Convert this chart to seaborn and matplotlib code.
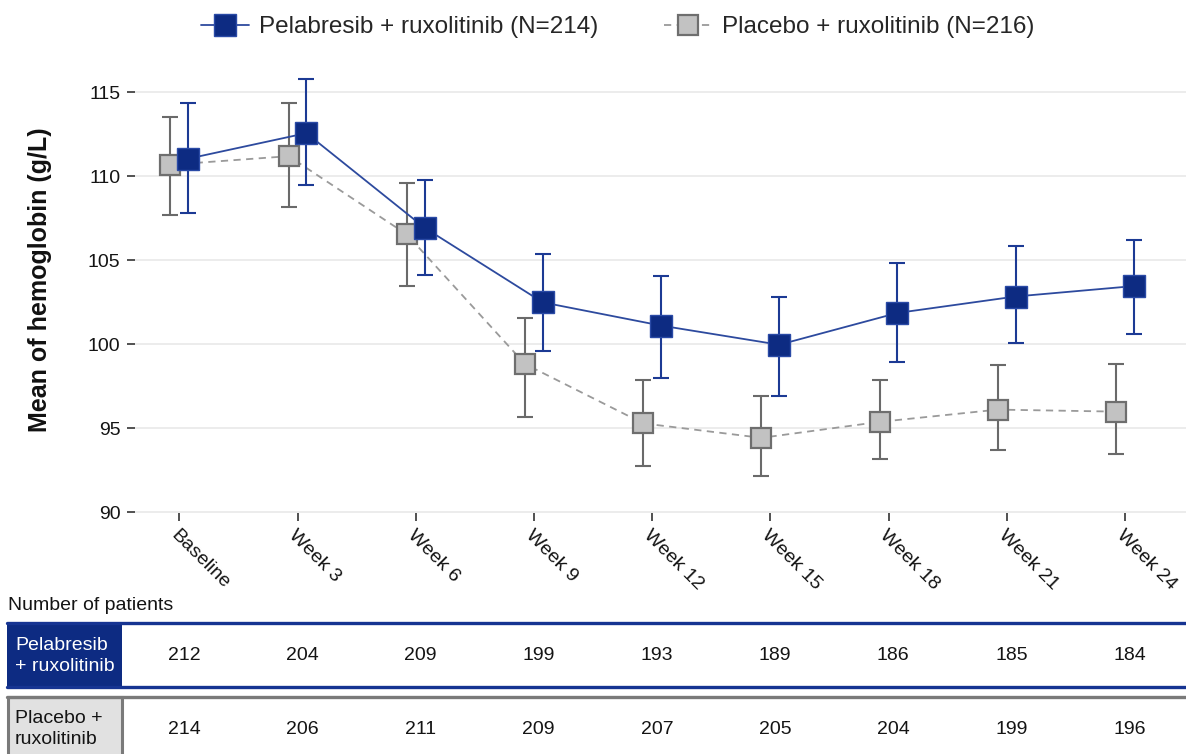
import numpy as np
import pandas as pd
import matplotlib
matplotlib.use("Agg")
import matplotlib.pyplot as plt
import seaborn as sns
from matplotlib.transforms import blended_transform_factory
from matplotlib.patches import Rectangle
from matplotlib.lines import Line2D

# ---- data -------------------------------------------------------------
visits = ["Baseline", "Week 3", "Week 6", "Week 9", "Week 12",
          "Week 15", "Week 18", "Week 21", "Week 24"]

pela_label = "Pelabresib + ruxolitinib (N=214)"
pela_mean = [111.05, 112.57, 106.94, 102.5, 101.12, 99.98, 101.87, 102.85, 103.47]
pela_lo = [107.8, 109.49, 104.15, 99.6, 98.0, 96.95, 98.94, 100.06, 100.63]
pela_hi = [114.35, 115.77, 109.8, 105.37, 104.06, 102.82, 104.82, 105.84, 106.2]

plac_label = "Placebo + ruxolitinib (N=216)"
plac_mean = [110.69, 111.2, 106.54, 98.83, 95.3, 94.44, 95.39, 96.12, 96.0]
plac_lo = [107.71, 108.16, 103.5, 95.7, 92.76, 92.15, 93.18, 93.7, 93.5]
plac_hi = [113.55, 114.35, 109.6, 101.6, 97.9, 96.95, 97.9, 98.75, 98.83]

pela_n = [212, 204, 209, 199, 193, 189, 186, 185, 184]
plac_n = [214, 206, 211, 209, 207, 205, 204, 199, 196]

pela_row = "Pelabresib\n+ ruxolitinib"
plac_row = "Placebo +\nruxolitinib"
yticks = [90, 95, 100, 105, 110, 115]

# ---- style ------------------------------------------------------------
sns.set_style("white")
plt.rcParams["font.family"] = ["Liberation Sans", "DejaVu Sans"]

NAVY = "#0d2b82"
NAVY_LINE = "#2d4a9e"
GREY_FILL = "#c2c2c2"
GREY_EDGE = "#6e6e6e"
INK = "#141414"

W, H = 1186, 754
fig = plt.figure(figsize=(W / 100, H / 100), dpi=100)


def fx(px):
    return px / W


def fy(py):
    return 1 - py / H


ax = fig.add_axes([fx(135), fy(513.3), fx(1186) - fx(135), fy(75.5) - fy(513.3)])

idx = np.arange(len(visits))
arms = [
    dict(label=plac_label, mean=plac_mean, lo=plac_lo, hi=plac_hi, off=-0.075,
         line=GREY_FILL, stem="#6a6a6a", face=GREY_FILL, edge=GREY_EDGE,
         ms=14.6, mew=1.6, dashed=True, z=2),
    dict(label=pela_label, mean=pela_mean, lo=pela_lo, hi=pela_hi, off=0.075,
         line=NAVY_LINE, stem="#1c3a94", face=NAVY, edge="#2a4aa6",
         ms=16.4, mew=1.0, dashed=False, z=5),
]

handles = {}
for arm in arms:
    df = pd.DataFrame({"x": idx + arm["off"], "mean": arm["mean"],
                       "lo": arm["lo"], "hi": arm["hi"]})
    eb = ax.errorbar(df["x"], df["mean"],
                     yerr=[df["mean"] - df["lo"], df["hi"] - df["mean"]],
                     fmt="none", ecolor=arm["stem"], elinewidth=1.5,
                     capsize=5.5, capthick=1.5, zorder=arm["z"])
    for cap in eb[1]:
        cap.set_color("#1e1e1e")
    sns.lineplot(data=df, x="x", y="mean", ax=ax, color=arm["line"],
                 linewidth=1.3, marker="s", markersize=arm["ms"],
                 markerfacecolor=arm["face"], markeredgecolor=arm["edge"],
                 markeredgewidth=arm["mew"], zorder=arm["z"] + 1)
    ln = ax.lines[-1]
    if arm["dashed"]:
        ln.set_color("#9a9a9a")
        ln.set_linestyle((0, (4, 3)))
    ln.set_label(arm["label"])
    handles[arm["label"]] = ln

if ax.get_legend() is not None:
    ax.get_legend().remove()

# ---- axes -------------------------------------------------------------
ax.set_xlim(-0.375, 8.517)
ax.set_ylim(89.95, 116)
ax.set_yticks(yticks)
ax.set_xticks(idx, visits)
ax.set_axisbelow(True)
ax.grid(axis="y", color="#ebebeb", linewidth=1.3)
ax.grid(axis="x", visible=False)
sns.despine(ax=ax, left=True, bottom=True)

ax.tick_params(axis="y", left=True, length=5.5, width=1.2, color="#333333",
               pad=5, labelsize=14, labelcolor=INK)
ax.tick_params(axis="x", bottom=True, length=6, width=1.2, color="#333333",
               pad=4, labelsize=14, labelcolor=INK)
for lab in ax.get_xticklabels():
    lab.set_rotation(-45)
    lab.set_ha("left")
    lab.set_va("top")
    lab.set_rotation_mode("anchor")

ax.set_xlabel("")
ax.set_ylabel("Mean of hemoglobin (g/L)", fontsize=18, fontweight="bold",
              color="#111111")
ax.yaxis.set_label_coords(-0.079, 0.533)

# ---- legend -----------------------------------------------------------
fig.legend(handles=[handles[pela_label], handles[plac_label]],
           labels=[pela_label, plac_label],
           loc="center", bbox_to_anchor=(0.5207, fy(27)), ncol=2,
           frameon=False, fontsize=17.5, handlelength=2.0,
           handletextpad=0.4, columnspacing=2.7, borderaxespad=0)

# ---- number-at-risk table --------------------------------------------
tr = blended_transform_factory(ax.transData, fig.transFigure)
fig.text(fx(8), fy(606), "Number of patients", fontsize=14,
         ha="left", va="center", color=INK)

# treatment row
fig.add_artist(Rectangle((fx(7), fy(687)), fx(122) - fx(7), fy(623) - fy(687),
                         transform=fig.transFigure, facecolor=NAVY,
                         edgecolor="none"))
for yy in (623, 687):
    fig.add_artist(Line2D([fx(7), 1.0], [fy(yy), fy(yy)], color="#163492",
                          linewidth=2.4, transform=fig.transFigure))
fig.text(fx(15), fy(656), pela_row, color="white", fontsize=14,
         ha="left", va="center", linespacing=1.3)

# placebo row
fig.add_artist(Rectangle((fx(8), fy(770)), fx(122) - fx(8), fy(697) - fy(770),
                         transform=fig.transFigure, facecolor="#e1e1e1",
                         edgecolor="#7a7a7a", linewidth=2.2))
fig.add_artist(Line2D([fx(7), 1.0], [fy(697), fy(697)], color="#7a7a7a",
                      linewidth=2.4, transform=fig.transFigure))
fig.text(fx(15), fy(729), plac_row, color=INK, fontsize=14,
         ha="left", va="center", linespacing=1.3)

for i, (a, b) in enumerate(zip(pela_n, plac_n)):
    fig.text(i + 0.04, fy(656), str(a), transform=tr, ha="center",
             va="center", fontsize=14, color=INK)
    fig.text(i + 0.04, fy(729), str(b), transform=tr, ha="center",
             va="center", fontsize=14, color=INK)

fig.savefig("out.png", dpi=100)
